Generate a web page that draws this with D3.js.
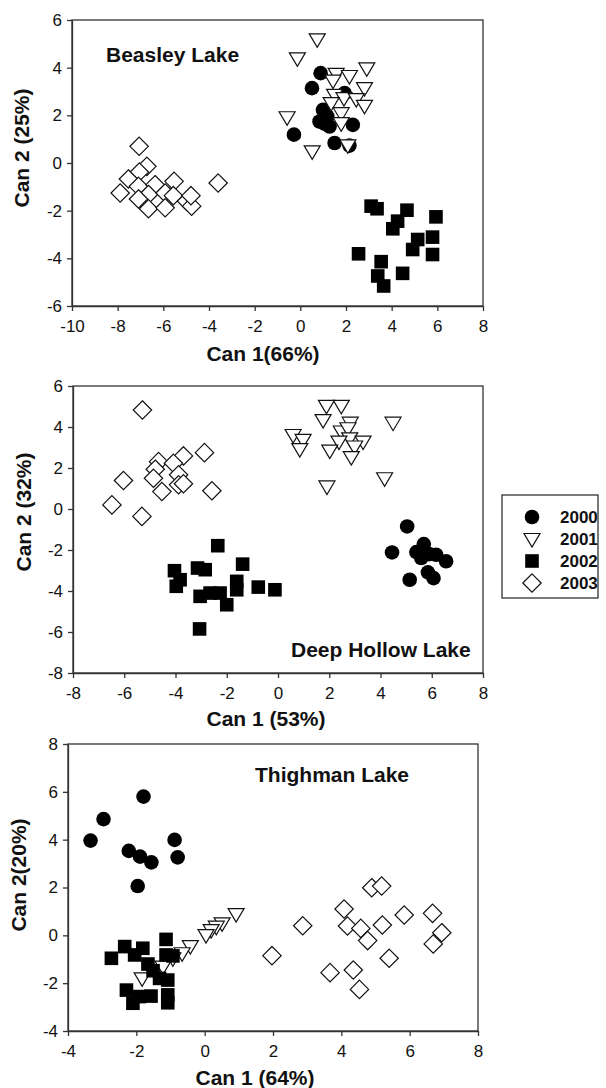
<!DOCTYPE html>
<html>
<head>
<meta charset="utf-8">
<script src="https://cdn.jsdelivr.net/npm/d3@7"></script>
<style>
  body { margin: 0; background: white; }
  svg { display: block; }
  text { font-family: "Liberation Sans", Arial, sans-serif; fill: #111; }
</style>
</head>
<body>
<div id="chart"></div>
<script>
// --- data ---
const YEARS = ["2000", "2001", "2002", "2003"];

// Beasley Lake
const beasley2000 = [[0.89,3.77],[0.51,3.14],[1.94,2.93],[0.99,2.23],[1.18,1.95],[0.84,1.74],[1.28,1.53],[2.30,1.60],[-0.28,1.19],[1.50,0.84],[2.15,0.73],[1.05,1.65]];
const beasley2001 = [[0.74,5.19],[-0.13,4.39],[2.91,3.97],[1.57,3.74],[2.15,3.65],[1.43,3.46],[2.81,3.14],[1.50,2.86],[1.91,2.72],[2.45,2.68],[1.35,2.51],[2.81,2.40],[1.79,2.09],[-0.58,1.92],[1.79,1.67],[2.08,0.74],[0.52,0.49]];
const beasley2002 = [[3.10,-1.81],[3.36,-1.92],[4.67,-1.98],[5.94,-2.26],[4.26,-2.44],[4.05,-2.76],[5.14,-3.21],[5.79,-3.11],[4.92,-3.63],[5.79,-3.84],[2.55,-3.81],[3.54,-4.14],[4.48,-4.63],[3.39,-4.74],[3.65,-5.16]];
const beasley2003 = [[-7.06,0.70],[-3.60,-0.84],[-6.72,-0.14],[-7.05,-0.38],[-7.53,-0.67],[-7.89,-1.26],[-7.09,-0.98],[-6.36,-0.91],[-5.53,-0.77],[-6.65,-1.32],[-7.09,-1.51],[-5.92,-1.26],[-5.56,-1.37],[-6.65,-1.92],[-5.92,-1.88],[-4.98,-1.60],[-4.76,-1.81],[-4.79,-1.37]];

// Deep Hollow Lake
const deep2000 = [[5.04,-0.85],[4.45,-2.12],[5.69,-1.71],[5.40,-2.10],[5.59,-2.39],[6.17,-2.23],[6.56,-2.55],[5.85,-3.09],[6.07,-3.37],[5.14,-3.45],[5.90,-2.20]];
const deep2001 = [[1.89,5.03],[2.47,5.03],[1.76,4.34],[4.49,4.21],[2.82,4.21],[2.47,3.78],[2.73,3.94],[0.59,3.61],[0.98,3.37],[2.80,3.45],[2.38,3.29],[3.32,3.29],[0.85,2.92],[2.02,2.85],[2.99,3.05],[2.86,2.53],[4.16,1.50],[1.91,1.10]];
const deep2002 = [[-2.35,-1.79],[-1.38,-2.69],[-4.04,-3.01],[-3.14,-2.88],[-2.84,-2.96],[-3.82,-3.45],[-3.97,-3.77],[-1.61,-3.53],[-1.61,-3.94],[-0.77,-3.81],[-0.12,-3.94],[-3.04,-4.26],[-2.65,-4.10],[-2.26,-4.10],[-2.00,-4.67],[-3.06,-5.85]];
const deep2003 = [[-5.29,4.83],[-2.87,2.75],[-3.69,2.59],[-4.66,2.31],[-4.08,2.23],[-4.79,1.94],[-6.03,1.39],[-4.86,1.50],[-3.88,1.67],[-4.53,0.85],[-3.88,1.18],[-3.69,1.23],[-2.58,0.89],[-6.48,0.20],[-5.31,-0.36]];

// Thighman Lake
const thigh2000 = [[-1.79,5.80],[-2.96,4.86],[-3.34,3.96],[-0.88,3.99],[-2.22,3.53],[-1.89,3.29],[-1.56,3.05],[-0.79,3.26],[-1.96,2.06]];
const thigh2001 = [[0.92,0.89],[0.51,0.50],[0.34,0.36],[0.19,0.22],[0.04,0.01],[-0.42,-0.45],[-0.66,-0.75],[-0.93,-0.96],[-1.22,-1.31],[-1.83,-1.80]];
const thigh2002 = [[-2.73,-0.96],[-2.34,-0.47],[-1.81,-0.54],[-2.05,-0.82],[-1.13,-0.17],[-1.13,-0.82],[-0.93,-0.86],[-1.66,-1.20],[-1.51,-1.48],[-1.32,-1.80],[-1.08,-1.87],[-2.29,-2.29],[-2.10,-2.84],[-1.91,-2.56],[-1.57,-2.54],[-1.08,-2.49],[-1.08,-2.82]];
const thigh2003 = [[4.89,1.99],[5.18,2.06],[4.08,1.10],[5.84,0.85],[6.67,0.92],[2.87,0.40],[4.18,0.39],[4.57,0.29],[5.20,0.43],[6.94,0.11],[4.77,-0.22],[6.69,-0.36],[1.97,-0.85],[5.40,-0.96],[3.67,-1.56],[4.35,-1.45],[4.53,-2.26]];

// tick values
const beasleyXTicks = [-10, -8, -6, -4, -2, 0, 2, 4, 6, 8];
const beasleyYTicks = [-6, -4, -2, 0, 2, 4, 6];
const deepXTicks = [-8, -6, -4, -2, 0, 2, 4, 6, 8];
const deepYTicks = [-8, -6, -4, -2, 0, 2, 4, 6];
const thighXTicks = [-4, -2, 0, 2, 4, 6, 8];
const thighYTicks = [-4, -2, 0, 2, 4, 6, 8];

const width = 606, height = 1088;

var svg = d3.select("#chart")
  .append("svg")
  .attr("width", width)
  .attr("height", height);

// plain hyphen minus, like the original
var tickFmt = function(d) { return String(d); };

// marker shapes per year
function drawMarker(g, year, x, y)
{
  if (year == "2000") {
    g.append("circle").attr("cx", x).attr("cy", y).attr("r", 7.3)
      .attr("fill", "#000");
  } else if (year == "2001") {
    g.append("path")
      .attr("d", "M" + (x - 8) + "," + (y - 5.5) + "L" + (x + 8) + "," + (y - 5.5) + "L" + x + "," + (y + 8) + "Z")
      .attr("fill", "#fff").attr("stroke", "#111").attr("stroke-width", 1.2);
  } else if (year == "2002") {
    g.append("rect").attr("x", x - 6.8).attr("y", y - 6.8).attr("width", 13.6).attr("height", 13.6)
      .attr("fill", "#000");
  } else {
    g.append("path")
      .attr("d", "M" + x + "," + (y - 9.2) + "L" + (x + 9.2) + "," + y + "L" + x + "," + (y + 9.2) + "L" + (x - 9.2) + "," + y + "Z")
      .attr("fill", "#fff").attr("stroke", "#111").attr("stroke-width", 1.2);
  }
}

function drawPanel(p)
{
  var x = d3.scaleLinear().domain(p.xDomain).range([p.left, p.right]);
  var y = d3.scaleLinear().domain(p.yDomain).range([p.bottom, p.top]);

  var g = svg.append("g");

  // frame
  g.append("rect")
    .attr("x", p.left).attr("y", p.top)
    .attr("width", p.right - p.left).attr("height", p.bottom - p.top)
    .attr("fill", "none").attr("stroke", "#333").attr("stroke-width", 1.3);

  var xAxis = g.append("g")
    .attr("transform", "translate(0," + p.bottom + ")")
    .call(d3.axisBottom(x).tickValues(p.xTicks).tickFormat(tickFmt).tickSize(5).tickSizeOuter(0).tickPadding(9));

  var yAxis = g.append("g")
    .attr("transform", "translate(" + p.left + ",0)")
    .call(d3.axisLeft(y).tickValues(p.yTicks).tickFormat(tickFmt).tickSize(5).tickSizeOuter(0).tickPadding(5));

  [xAxis, yAxis].forEach(function(a) {
    a.select(".domain").attr("stroke", "#333").attr("stroke-width", 1.3);
    a.selectAll(".tick line").attr("stroke", "#333").attr("stroke-width", 1.3);
    a.selectAll(".tick text").style("font-size", "17px").attr("fill", "#111");
  });

  // points, one group per year
  var series = [p.s2000, p.s2001, p.s2002, p.s2003];
  series.forEach(function(pts, i) {
    var sg = g.append("g");
    pts.forEach(function(d) { drawMarker(sg, YEARS[i], x(d[0]), y(d[1])); });
  });

  // titles
  g.append("text")
    .attr("x", p.titleX).attr("y", p.titleY)
    .style("font-size", "21px").style("font-weight", "bold")
    .text(p.title);

  g.append("text")
    .attr("x", p.xLabelX).attr("y", p.xLabelY)
    .attr("text-anchor", "middle")
    .style("font-size", "21px").style("font-weight", "bold")
    .text(p.xLabel);

  g.append("text")
    .attr("transform", "translate(" + p.yLabelX + "," + p.yLabelY + ") rotate(-90)")
    .attr("text-anchor", "middle")
    .style("font-size", "21px").style("font-weight", "bold")
    .text(p.yLabel);
}

drawPanel({
  xDomain: [-10, 8], yDomain: [-6, 6], left: 72, right: 483, top: 20, bottom: 306,
  xTicks: beasleyXTicks, yTicks: beasleyYTicks,
  s2000: beasley2000, s2001: beasley2001, s2002: beasley2002, s2003: beasley2003,
  title: "Beasley Lake", titleX: 106, titleY: 62,
  xLabel: "Can 1(66%)", xLabelX: 263, xLabelY: 361,
  yLabel: "Can 2 (25%)", yLabelX: 29, yLabelY: 148
});

drawPanel({
  xDomain: [-8, 8], yDomain: [-8, 6], left: 73, right: 483, top: 386, bottom: 673,
  xTicks: deepXTicks, yTicks: deepYTicks,
  s2000: deep2000, s2001: deep2001, s2002: deep2002, s2003: deep2003,
  title: "Deep Hollow Lake", titleX: 291, titleY: 657,
  xLabel: "Can 1 (53%)", xLabelX: 266, xLabelY: 726,
  yLabel: "Can 2 (32%)", yLabelX: 31, yLabelY: 512
});

drawPanel({
  xDomain: [-4, 8], yDomain: [-4, 8], left: 68, right: 478, top: 744, bottom: 1031,
  xTicks: thighXTicks, yTicks: thighYTicks,
  s2000: thigh2000, s2001: thigh2001, s2002: thigh2002, s2003: thigh2003,
  title: "Thighman Lake", titleX: 255, titleY: 782,
  xLabel: "Can 1 (64%)", xLabelX: 255, xLabelY: 1085,
  yLabel: "Can 2(20%)", yLabelX: 26, yLabelY: 875
});

// legend
var legend = svg.append("g");
legend.append("rect")
  .attr("x", 502).attr("y", 495).attr("width", 96).attr("height", 103)
  .attr("fill", "#fff").attr("stroke", "#333").attr("stroke-width", 1.3);

var legendY = d3.scalePoint().domain(YEARS).range([517, 583]);
YEARS.forEach(function(yr) {
  drawMarker(legend, yr, 532, legendY(yr));
  legend.append("text")
    .attr("x", 560).attr("y", legendY(yr) + 6)
    .style("font-size", "17px").style("font-weight", "bold")
    .text(yr);
});
</script>
</body>
</html>
